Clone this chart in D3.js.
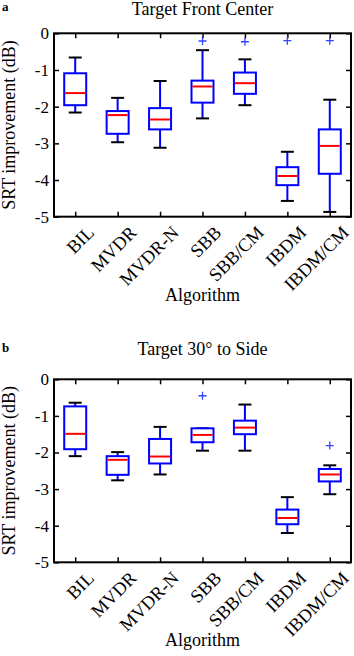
<!DOCTYPE html>
<html lang="en">
<head>
<meta charset="UTF-8">
<title>SRT improvement by algorithm</title>
<script src="https://d3js.org/d3.v7.min.js"></script>
<style>
  body { margin: 0; background: #fff; }
  svg text { font-family: "Liberation Serif", "Times New Roman", serif; fill: #000; }
  .tick-lbl { font-size: 17px; }
  .cat-lbl { font-size: 18.5px; }
  .axis-title { font-size: 18px; }
  .panel-title { font-size: 18px; }
  .panel-tag { font-size: 13px; font-weight: bold; }
</style>
</head>
<body>
<svg id="fig" width="354" height="656"></svg>
<script>
// categories on the x axis
const algorithms = ["BIL", "MVDR", "MVDR-N", "SBB", "SBB/CM", "IBDM", "IBDM/CM"];
const yTicks = [0, -1, -2, -3, -4, -5];

// panel a: Target Front Center
const frontLow    = [-2.16, -2.97, -3.12, -2.32, -1.96, -4.57, -4.87];
const frontQ1     = [-1.96, -2.74, -2.62, -1.89, -1.65, -4.14, -3.83];
const frontMedian = [-1.63, -2.23, -2.35, -1.45, -1.36, -3.89, -3.07];
const frontQ3     = [-1.09, -2.12, -2.04, -1.29, -1.07, -3.65, -2.62];
const frontHigh   = [-0.66, -1.76, -1.30, -0.46, -0.71, -3.23, -1.81];
const frontOut    = [[], [], [], [-0.21], [-0.23], [-0.20], [-0.20]];

// panel b: Target 30° to Side
const sideLow    = [-2.10, -2.76, -2.60, -1.95, -1.95, -4.20, -3.14];
const sideQ1     = [-1.91, -2.61, -2.30, -1.72, -1.50, -3.96, -2.79];
const sideMedian = [-1.49, -2.20, -2.11, -1.52, -1.32, -3.79, -2.60];
const sideQ3     = [-0.74, -2.10, -1.63, -1.34, -1.13, -3.56, -2.45];
const sideHigh   = [-0.64, -1.99, -1.30, -1.34, -0.69, -3.22, -2.35];
const sideOut    = [[], [], [], [-0.45], [], [], [-1.81]];

const svg = d3.select("#fig");

function drawPanel(opt) {
  const left = 54, right = 351;
  const top = opt.top, bottom = opt.bottom;

  const x = d3.scaleLinear().domain([0.5, algorithms.length + 0.5]).range([left, right]);
  const y = d3.scaleLinear().domain([-5, 0]).range([bottom, top]);

  const stats = algorithms.map((a, i) => ({
    name: a, pos: i + 1,
    low: opt.low[i], q1: opt.q1[i], med: opt.med[i], q3: opt.q3[i], high: opt.high[i],
    out: opt.out[i]
  }));

  // panel letter and title
  svg.append("text").attr("class", "panel-tag")
    .attr("x", 2).attr("y", opt.tagY).text(opt.tag);
  svg.append("text").attr("class", "panel-title")
    .attr("x", (left + right) / 2).attr("y", opt.titleY)
    .attr("text-anchor", "middle").text(opt.title);

  // axes, ticks pointing inward on all four sides
  const gl = svg.append("g").attr("transform", `translate(${left},0)`)
    .call(d3.axisLeft(y).tickValues(yTicks).tickFormat(d => String(d))
      .tickSizeInner(-5).tickSizeOuter(0).tickPadding(5));
  gl.select(".domain").remove();
  gl.selectAll("text").attr("class", "tick-lbl");

  const gr = svg.append("g").attr("transform", `translate(${right},0)`)
    .call(d3.axisRight(y).tickValues(yTicks).tickFormat("").tickSizeInner(-5).tickSizeOuter(0));
  gr.select(".domain").remove();

  const gt = svg.append("g").attr("transform", `translate(0,${top})`)
    .call(d3.axisTop(x).tickValues(d3.range(1, algorithms.length + 1)).tickFormat("")
      .tickSizeInner(-5).tickSizeOuter(0));
  gt.select(".domain").remove();

  const gb = svg.append("g").attr("transform", `translate(0,${bottom})`)
    .call(d3.axisBottom(x).tickValues(d3.range(1, algorithms.length + 1)).tickFormat("")
      .tickSizeInner(-5).tickSizeOuter(0));
  gb.select(".domain").remove();

  svg.selectAll(".tick line").attr("stroke", "#000").attr("stroke-width", 1.5);

  // rotated category labels, end of the text just right of each tick
  svg.append("g").selectAll("text")
    .data(stats).enter().append("text")
    .attr("class", "cat-lbl")
    .attr("text-anchor", "end")
    .attr("transform", d => `translate(${x(d.pos) + 20},${bottom + 17}) rotate(-45)`)
    .text(d => d.name);

  // axis titles
  svg.append("text").attr("class", "axis-title")
    .attr("text-anchor", "middle")
    .attr("transform", `translate(15,${(top + bottom) / 2}) rotate(-90)`)
    .text("SRT improvement (dB)");
  svg.append("text").attr("class", "axis-title")
    .attr("x", (left + right) / 2).attr("y", opt.xTitleY)
    .attr("text-anchor", "middle").text("Algorithm");

  // boxes
  const boxW = 22, capW = 13;
  const g = svg.append("g");
  const box = g.selectAll("g.box").data(stats).enter().append("g").attr("class", "box");

  box.append("line")
    .attr("x1", d => x(d.pos)).attr("x2", d => x(d.pos))
    .attr("y1", d => y(d.high)).attr("y2", d => y(d.q3))
    .attr("stroke", "#0000ff").attr("stroke-width", 2);
  box.append("line")
    .attr("x1", d => x(d.pos)).attr("x2", d => x(d.pos))
    .attr("y1", d => y(d.q1)).attr("y2", d => y(d.low))
    .attr("stroke", "#0000ff").attr("stroke-width", 2);

  box.append("line")
    .attr("x1", d => x(d.pos) - capW / 2).attr("x2", d => x(d.pos) + capW / 2)
    .attr("y1", d => y(d.high)).attr("y2", d => y(d.high))
    .attr("stroke", "#000").attr("stroke-width", 2);
  box.append("line")
    .attr("x1", d => x(d.pos) - capW / 2).attr("x2", d => x(d.pos) + capW / 2)
    .attr("y1", d => y(d.low)).attr("y2", d => y(d.low))
    .attr("stroke", "#000").attr("stroke-width", 2);

  box.append("rect")
    .attr("x", d => x(d.pos) - boxW / 2).attr("width", boxW)
    .attr("y", d => y(d.q3)).attr("height", d => y(d.q1) - y(d.q3))
    .attr("fill", "#fff").attr("stroke", "#0000ff").attr("stroke-width", 2);

  box.append("line")
    .attr("x1", d => x(d.pos) - boxW / 2 + 1).attr("x2", d => x(d.pos) + boxW / 2 - 1)
    .attr("y1", d => y(d.med)).attr("y2", d => y(d.med))
    .attr("stroke", "#ff0000").attr("stroke-width", 2);

  // outliers as blue plus signs
  const pts = [];
  stats.forEach(d => d.out.forEach(v => pts.push({ pos: d.pos, v: v })));
  g.selectAll("path.out").data(pts).enter().append("path")
    .attr("class", "out")
    .attr("d", d => {
      const cx = x(d.pos), cy = y(d.v), r = 4;
      return `M${cx - r},${cy}H${cx + r}M${cx},${cy - r}V${cy + r}`;
    })
    .attr("stroke", "#3344ff").attr("stroke-width", 1.3).attr("fill", "none");

  // frame
  svg.append("rect")
    .attr("x", left).attr("y", top)
    .attr("width", right - left).attr("height", bottom - top)
    .attr("fill", "none").attr("stroke", "#000").attr("stroke-width", 2);
}

drawPanel({
  tag: "a", tagY: 11, title: "Target Front Center", titleY: 15,
  top: 33.3, bottom: 216.7, xTitleY: 301,
  low: frontLow, q1: frontQ1, med: frontMedian, q3: frontQ3, high: frontHigh, out: frontOut
});

drawPanel({
  tag: "b", tagY: 352, title: "Target 30\u00B0 to Side", titleY: 355,
  top: 379.3, bottom: 562.3, xTitleY: 646,
  low: sideLow, q1: sideQ1, med: sideMedian, q3: sideQ3, high: sideHigh, out: sideOut
});
</script>
</body>
</html>
